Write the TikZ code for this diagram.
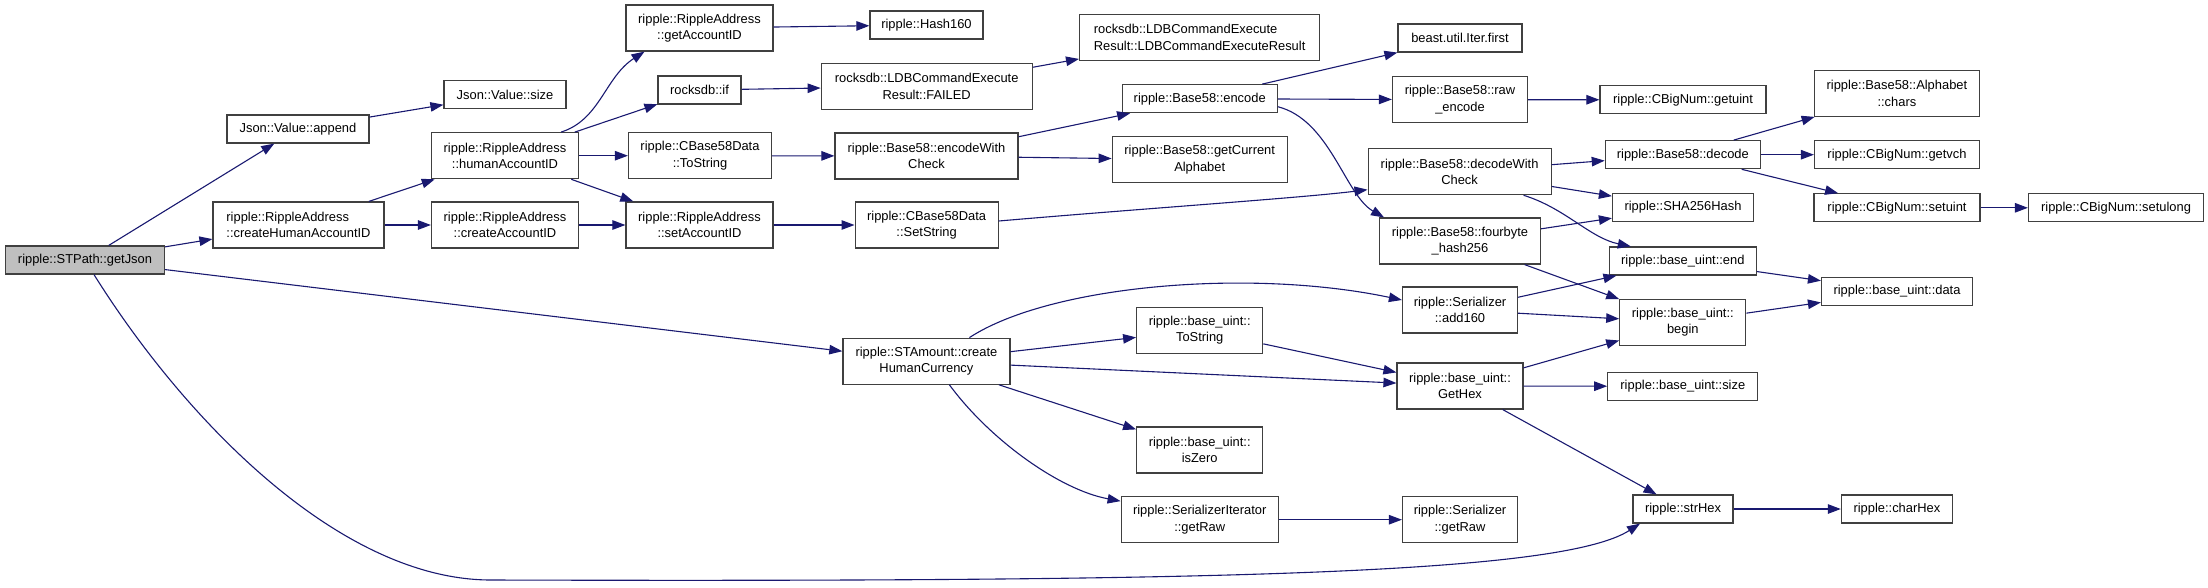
\documentclass[tikz,border=0pt]{standalone}
\usepackage{fontspec}
\setsansfont{Liberation Sans}
\usepackage{xcolor}
\usetikzlibrary{arrows.meta}
\definecolor{edgeblue}{HTML}{191970}
\definecolor{boxline}{HTML}{404040}
\definecolor{rootgray}{HTML}{BFBFBF}

\begin{document}
\begin{tikzpicture}[
  x=1pt, y={(0pt,-1pt)},
  font=\sffamily\fontsize{12.9pt}{16.5pt}\selectfont,
  fn/.style   = {draw=boxline, line width=1.2pt, fill=white, inner sep=0pt,
                 minimum height=28pt, align=center},
  two/.style  = {minimum height=46pt},
  lft/.style  = {align=left},
  root/.style = {fill=rootgray},
  call/.style = {draw=edgeblue, line width=1.1pt,
                 -{Triangle[length=13pt,width=9.5pt]}}
]
\useasboundingbox (0,0) rectangle (2208,587);
%% Root
\node[fn,root,minimum width=159pt] (jsn) at (85,260) {ripple::STPath::getJson};
%% Column 2
\node[fn,minimum width=142pt]       (app) at (298,129)   {Json::Value::append};
\node[fn,two,lft,minimum width=171pt] (cha) at (298.5,225) {ripple::RippleAddress\\::createHumanAccountID};
%% Column 3
\node[fn,minimum width=122pt]     (jsz) at (505,94.5)  {Json::Value::size};
\node[fn,two,minimum width=147pt] (hac) at (505,155.7) {ripple::RippleAddress\\::humanAccountID};
\node[fn,two,minimum width=147pt] (cac) at (505,225)   {ripple::RippleAddress\\::createAccountID};
%% Column 4
\node[fn,two,minimum width=147pt] (gai) at (699.5,28)  {ripple::RippleAddress\\::getAccountID};
\node[fn,minimum width=83pt]      (rif) at (699.5,90)  {rocksdb::if};
\node[fn,two,minimum width=143pt] (tos) at (700,155.7) {ripple::CBase58Data\\::ToString};
\node[fn,two,minimum width=147pt] (sai) at (699.5,225) {ripple::RippleAddress\\::setAccountID};
%% Column 5
\node[fn,minimum width=113pt]     (h16) at (926.5,25)    {ripple::Hash160};
\node[fn,two,minimum width=211pt] (fld) at (926.7,86.3)  {rocksdb::LDBCommandExecute\\Result::FAILED};
\node[fn,two,minimum width=183pt] (ewc) at (926.5,156)   {ripple::Base58::encodeWith\\Check};
\node[fn,two,minimum width=143pt] (sst) at (926.6,225)   {ripple::CBase58Data\\::SetString};
\node[fn,two,minimum width=167pt] (hcr) at (926.4,361.2) {ripple::STAmount::create\\HumanCurrency};
%% Column 6
\node[fn,two,lft,minimum width=240pt] (ldb) at (1199.6,37.3) {rocksdb::LDBCommandExecute\\Result::LDBCommandExecuteResult};
\node[fn,minimum width=155pt]     (enc) at (1199.7,98.7)  {ripple::Base58::encode};
\node[fn,two,minimum width=175pt] (gca) at (1199.7,159.7) {ripple::Base58::getCurrent\\Alphabet};
\node[fn,two,minimum width=126pt] (uts) at (1199.7,330.2) {ripple::base\_uint::\\ToString};
\node[fn,two,minimum width=126pt] (isz) at (1199.7,450)   {ripple::base\_uint::\\isZero};
\node[fn,two,minimum width=157pt] (sir) at (1199.7,519.7) {ripple::SerializerIterator\\::getRaw};
%% Column 7
\node[fn,minimum width=124pt]     (bif) at (1460,38)     {beast.util.Iter.first};
\node[fn,two,minimum width=135pt] (rwe) at (1460,99.7)   {ripple::Base58::raw\\\_encode};
\node[fn,two,minimum width=183pt] (dwc) at (1459.6,171.7) {ripple::Base58::decodeWith\\Check};
\node[fn,two,minimum width=161pt] (fbh) at (1460,241)    {ripple::Base58::fourbyte\\\_hash256};
\node[fn,two,minimum width=115pt] (a16) at (1460,310)    {ripple::Serializer\\::add160};
\node[fn,two,minimum width=126pt] (ghx) at (1460,386)    {ripple::base\_uint::\\GetHex};
\node[fn,two,minimum width=115pt] (sgr) at (1460,519.7)  {ripple::Serializer\\::getRaw};
%% Column 8
\node[fn,minimum width=166pt]     (gtu) at (1683,99.8)    {ripple::CBigNum::getuint};
\node[fn,minimum width=155pt]     (dec) at (1682.8,154.7) {ripple::Base58::decode};
\node[fn,minimum width=141pt]     (sha) at (1683,207.5)   {ripple::SHA256Hash};
\node[fn,minimum width=147pt]     (ued) at (1682.8,261)   {ripple::base\_uint::end};
\node[fn,two,minimum width=126pt] (bgn) at (1682.8,322.3) {ripple::base\_uint::\\begin};
\node[fn,minimum width=150pt]     (usz) at (1682.8,386.3) {ripple::base\_uint::size};
\node[fn,minimum width=100pt]     (shx) at (1683,509)     {ripple::strHex};
%% Column 9 and 10
\node[fn,two,minimum width=165pt] (chr) at (1896.9,93.3) {ripple::Base58::Alphabet\\::chars};
\node[fn,minimum width=165pt]     (gvc) at (1897,154.7)  {ripple::CBigNum::getvch};
\node[fn,minimum width=166pt]     (sui) at (1897,207.8)  {ripple::CBigNum::setuint};
\node[fn,minimum width=151pt]     (dat) at (1897,291.5)  {ripple::base\_uint::data};
\node[fn,minimum width=111pt]     (chx) at (1896.9,509)  {ripple::charHex};
\node[fn,minimum width=175pt]     (sul) at (2116,207.8)  {ripple::CBigNum::setulong};
%% Straight calls
\foreach \a/\b in {jsn/app,jsn/cha,jsn/hcr,app/jsz,cha/hac,cha/cac,
  hac/rif,hac/tos,hac/sai,cac/sai,gai/h16,rif/fld,fld/ldb,tos/ewc,
  sai/sst,ewc/enc,ewc/gca,enc/bif,enc/rwe,rwe/gtu,dwc/dec,dwc/sha,
  fbh/sha,fbh/bgn,dec/chr,dec/gvc,dec/sui,sui/sul,hcr/uts,hcr/ghx,
  hcr/isz,uts/ghx,sir/sgr,a16/ued,a16/bgn,ghx/bgn,ghx/usz,ghx/shx,
  ued/dat,bgn/dat,shx/chx}
  \draw[call] (\a) -- (\b);
%% Curved calls
\draw[call] ([xshift=56pt]hac.north) .. controls (600,120) and (605,77) .. ([xshift=-55pt]gai.south);
\draw[call] ([yshift=4pt]sst.east) .. controls (1150,208) and (1300,198) .. ([yshift=-18pt]dwc.west);
\draw[call] ([yshift=-8pt]enc.east) .. controls (1330,120) and (1345,195) .. ([xshift=-76pt]fbh.north);
\draw[call] ([xshift=64pt]dwc.south) .. controls (1565,208) and (1590,238) .. ([xshift=-52pt]ued.north);
\draw[call] ([xshift=43pt]hcr.north) .. controls (1050,285) and (1250,268) .. ([yshift=10pt]a16.west);
\draw[call] ([xshift=23pt]hcr.south) .. controls (990,440) and (1060,490) .. ([yshift=-5pt]sir.north west);
\draw[call] ([xshift=9pt]jsn.south) .. controls (185,420) and (340,580) .. (491,580)
  .. controls (1200,582) and (1560,575) .. ([xshift=-43pt]shx.south);
\end{tikzpicture}
\end{document}
